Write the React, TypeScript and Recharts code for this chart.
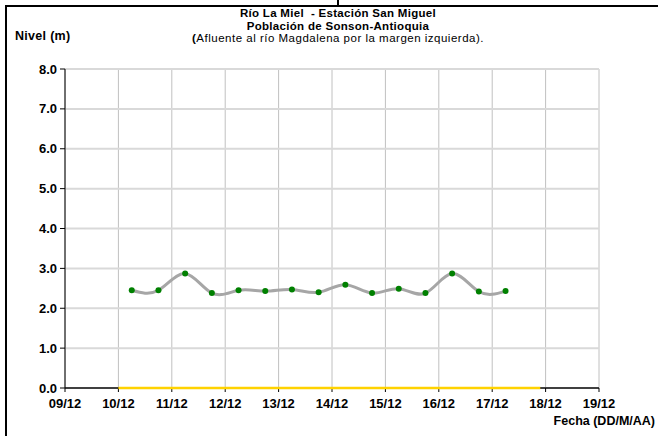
import React from "react";
import { LineChart, Line, XAxis, YAxis, CartesianGrid } from "recharts";

// lecturas de nivel, dos por día (06:00 y 18:00)
const dias = [10, 10, 11, 11, 12, 12, 13, 13, 14, 14, 15, 15, 16, 16, 17];
const horas = [6, 18, 6, 18, 6, 18, 6, 18, 6, 18, 6, 18, 6, 18, 6];
const niveles = [2.45, 2.45, 2.87, 2.38, 2.45, 2.43, 2.47, 2.4, 2.59, 2.38, 2.49, 2.38, 2.87, 2.42, 2.43];

// línea de referencia amarilla sobre 0.0
const refDias = [1, 8.9];
const refNivel = [0, 0];

const fechas = ["09/12", "10/12", "11/12", "12/12", "13/12", "14/12", "15/12", "16/12", "17/12", "18/12", "19/12"];
const nivelTicks = [0, 1, 2, 3, 4, 5, 6, 7, 8];

const data = niveles.map((v, i) => ({ t: dias[i] - 9 + horas[i] / 24, nivel: v }));
const refData = refDias.map((t, i) => ({ t, nivel: refNivel[i] }));

const font = "'Liberation Sans', Arial, sans-serif";
const tickStyle = { fill: "#000", fontSize: 13, fontWeight: "bold", fontFamily: font };

const App = () => {
	return (
		<div style={{ position: "fixed", left: 0, top: 0, width: 658, height: 436, background: "#fff", fontFamily: font, overflow: "hidden" }}>
			<div style={{ position: "absolute", left: 0, width: 676, top: 7, textAlign: "center", fontSize: 11.5, lineHeight: "12.5px", letterSpacing: 0.3, color: "#000" }}>
				<div style={{ fontWeight: "bold" }}>Río La Miel&nbsp; - Estación San Miguel</div>
				<div style={{ fontWeight: "bold" }}>Población de Sonson-Antioquia</div>
				<div style={{ letterSpacing: 0.5 }}><b>(</b>Afluente al río Magdalena por la margen izquierda).</div>
			</div>
			<div style={{ position: "absolute", left: 15, top: 29, fontSize: 12.5, fontWeight: "bold", letterSpacing: 0.3 }}>Nivel (m)</div>
			<div style={{ position: "absolute", right: 3, top: 414, fontSize: 12.5, fontWeight: "bold" }}>Fecha (DD/M/AA)</div>
			<div style={{ position: "absolute", left: 0, top: 0 }}>
				<LineChart width={658} height={436} data={data} margin={{ top: 69, right: 59, left: 10, bottom: 20 }}>
					<CartesianGrid horizontal={false} stroke="#c0c0c0" strokeWidth={1} />
					<CartesianGrid vertical={false} stroke="#d9d9d9" strokeWidth={2} />
					<XAxis
						type="number"
						dataKey="t"
						domain={[0, 10]}
						ticks={fechas.map((_, i) => i)}
						tickFormatter={(v: number) => fechas[v]}
						interval={0}
						height={28}
						stroke="#404040"
						strokeWidth={2}
						tickSize={4}
						tickMargin={7}
						tickLine={{ stroke: "#000", strokeWidth: 1 }}
						tick={tickStyle}
					/>
					<YAxis
						type="number"
						domain={[0, 8]}
						ticks={nivelTicks}
						tickFormatter={(v: number) => v.toFixed(1)}
						interval={0}
						width={55}
						stroke="#000"
						tickSize={5}
						tickMargin={3}
						tick={tickStyle}
					/>
					<Line
						dataKey="nivel"
						type="natural"
						stroke="#a6a6a6"
						strokeWidth={3}
						dot={{ r: 3, fill: "#008000", stroke: "none" }}
						isAnimationActive={false}
					/>
					<Line
						data={refData}
						dataKey="nivel"
						type="linear"
						stroke="#ffd200"
						strokeWidth={2.5}
						dot={false}
						zIndex={600}
						isAnimationActive={false}
					/>
				</LineChart>
			</div>
			<div style={{ position: "absolute", zIndex: 5, left: 337, top: 0, width: 2, height: 6, background: "#000" }} />
			<div style={{ position: "absolute", zIndex: 5, left: 5, top: 5, width: 680, height: 460, borderTop: "2px solid #000", borderLeft: "2px solid #000" }} />
		</div>
	);
};
export default App;
